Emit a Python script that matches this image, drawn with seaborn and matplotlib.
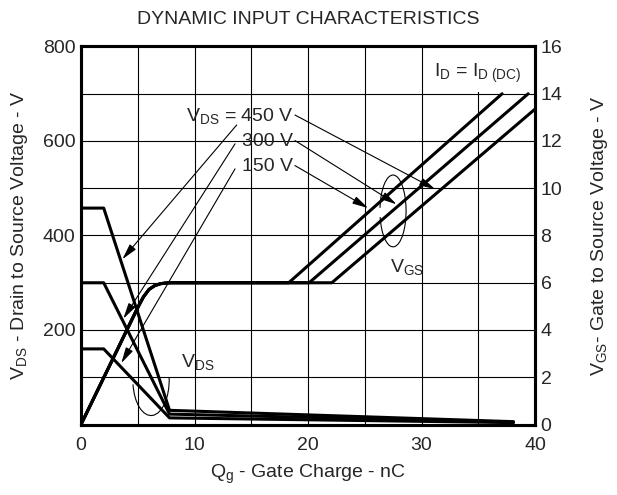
import numpy as np
import pandas as pd
import matplotlib
matplotlib.use('Agg')
import matplotlib.pyplot as plt
import seaborn as sns
from matplotlib.patches import Arc, Rectangle

# gate charge curves
vds_levels = ['150 V', '300 V', '450 V']

# drain-source voltage (left axis, V)
qg_vds = [0, 2.0, 7.8, 38.1]
vds_150 = [160, 160, 14, 4]
vds_300 = [300, 300, 22, 5]
vds_450 = [458, 458, 30, 6]

# gate-source voltage (right axis, V): common rise + plateau, then linear climb
qg_rise = [0, 5.0, 5.5, 6.0, 6.5, 7.0, 7.5, 8.0]
vgs_rise = [0, 4.95, 5.4, 5.72, 5.88, 5.96, 5.99, 6.0]
plateau_end = [18.3, 20.1, 22.1]
qg_end = [37.1, 39.4, 40.0]
vgs_end = [14.0, 14.0, 13.35]

x_ticks = [0, 10, 20, 30, 40]
vds_ticks = [200, 400, 600, 800]
vgs_ticks = [0, 2, 4, 6, 8, 10, 12, 14, 16]

sns.set_style('white')
plt.rcParams['font.family'] = ['Liberation Sans', 'DejaVu Sans']
plt.rcParams['mathtext.fontset'] = 'custom'
plt.rcParams['mathtext.rm'] = 'Liberation Sans'
plt.rcParams['mathtext.it'] = 'Liberation Sans:italic'
plt.rcParams['mathtext.bf'] = 'Liberation Sans:bold'

fs = 14
fig = plt.figure(figsize=(6.17, 4.95), dpi=100)
ax = fig.add_axes([81 / 617, 1 - 424.5 / 495, 454 / 617, 378 / 495])

vds_rows = []
for lvl, vals in zip(vds_levels, [vds_150, vds_300, vds_450]):
    for q, v in zip(qg_vds, vals):
        vds_rows.append({'level': lvl, 'qg': q, 'v': v})
vds_df = pd.DataFrame(vds_rows)

vgs_rows = []
for lvl, pe, qe, ve in zip(vds_levels, plateau_end, qg_end, vgs_end):
    qs = qg_rise + [pe, qe]
    vs = vgs_rise + [6.0, ve]
    for q, v in zip(qs, vs):
        vgs_rows.append({'level': lvl, 'qg': q, 'v': v})
vgs_df = pd.DataFrame(vgs_rows)

for lvl in vds_levels:
    d = vds_df[vds_df.level == lvl]
    sns.lineplot(data=d, x='qg', y='v', ax=ax, color='black', lw=2.2, sort=False, zorder=3)

ax.set_xlim(0, 40)
ax.set_ylim(0, 800)
ax.set_xticks(x_ticks)
ax.set_xticks(np.arange(0, 41, 5), minor=True)
ax.set_yticks(vds_ticks)
ax.set_yticks(np.arange(0, 801, 100), minor=True)
ax.grid(True, which='both', color='black', lw=0.8)
ax.set_axisbelow(True)
ax.tick_params(which='both', length=0, labelsize=fs)
ax.tick_params(axis='x', pad=9)
ax.tick_params(axis='y', pad=4)
ax.set_xlabel('Q$_{\\mathrm{g}}$ - Gate Charge - nC', fontsize=fs)
ax.set_ylabel('V$_{\\mathrm{DS}}$ - Drain to Source Voltage - V', fontsize=fs)
ax.xaxis.set_label_coords(0.5, -0.102)
ax.yaxis.set_label_coords(-0.112, 0.5)

# white box behind the test condition note
ax.add_patch(Rectangle((31, 703), 9, 97, facecolor='white', edgecolor='none', zorder=1))
ax.text(38.8, 743, 'I$_{\\mathrm{D}}$ = I$_{\\mathrm{D\\ (DC)}}$', ha='right', va='center', fontsize=fs, zorder=4)

ax2 = ax.twinx()
for lvl in vds_levels:
    d = vgs_df[vgs_df.level == lvl]
    sns.lineplot(data=d, x='qg', y='v', ax=ax2, color='black', lw=2.2, sort=False)
ax2.set_ylim(0, 16)
ax2.set_yticks(vgs_ticks)
ax2.tick_params(length=0, labelsize=fs, pad=4)
ax2.set_ylabel('V$_{\\mathrm{GS}}$- Gate to Source Voltage - V', fontsize=fs)
ax2.yaxis.set_label_coords(1.118, 0.5)
ax2.set_xlabel('')

for a in (ax, ax2):
    for s in a.spines.values():
        s.set_visible(True)
        s.set_color('black')
        s.set_linewidth(2.2)

# labels and leader arrows
ax.text(18.7, 652, 'V$_{\\mathrm{DS}}$ = 450 V', ha='right', va='center', fontsize=fs)
ax.text(18.7, 599, '300 V', ha='right', va='center', fontsize=fs)
ax.text(18.7, 546, '150 V', ha='right', va='center', fontsize=fs)

arrow = dict(arrowstyle='-|>,head_length=0.8,head_width=0.2', color='black', lw=0.8,
             shrinkA=0, shrinkB=0, mutation_scale=12)
left_from = [(13.72, 634), (13.57, 594), (13.57, 541)]
left_to = [(3.65, 350), (3.73, 224), (3.55, 130)]
right_from = [(18.85, 655), (18.85, 601), (18.85, 548)]
right_to = [(31.2, 498), (27.8, 466), (25.3, 458)]
for a0, a1 in zip(left_from + right_from, left_to + right_to):
    ax.annotate('', xy=a1, xytext=a0, arrowprops=arrow, zorder=4)

ax.add_patch(Arc((6.17, 94), width=3.2, height=150, theta1=-100, theta2=70, color='black', lw=0.8, zorder=4))
ax.text(10.3, 133, 'V$_{\\mathrm{DS}}$', ha='center', va='center', fontsize=fs)
ax.add_patch(Arc((27.49, 452), width=2.3, height=152, theta1=-95, theta2=100, color='black', lw=0.8, zorder=4))
ax.text(28.7, 334, 'V$_{\\mathrm{GS}}$', ha='center', va='center', fontsize=fs)

fig.text(308 / 617, 1 - 19 / 495, 'DYNAMIC INPUT CHARACTERISTICS', ha='center', va='center', fontsize=fs)

fig.savefig('out.png', dpi=100)
